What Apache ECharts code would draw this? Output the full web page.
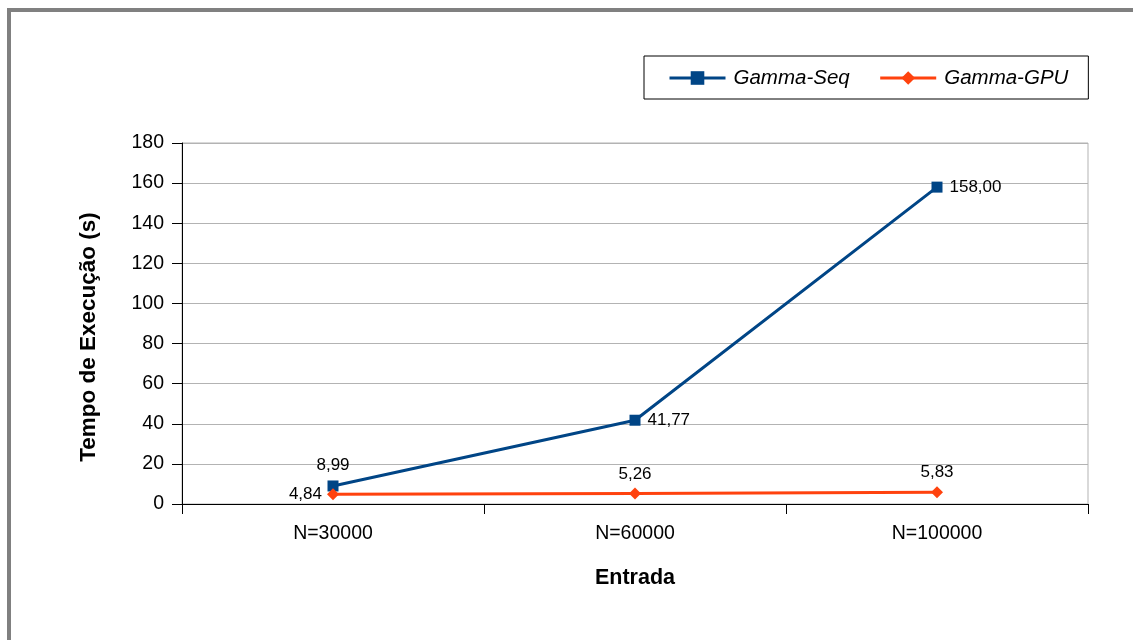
<!DOCTYPE html>
<html>
<head>
<meta charset="utf-8">
<script src="https://cdn.jsdelivr.net/npm/echarts@6/dist/echarts.min.js"></script>
<style>
  html, body { margin: 0; padding: 0; background: #fff; }
  #frame { position: absolute; left: 7px; top: 8px; width: 1126px; height: 632px;
           border-top: 4px solid #808080; border-left: 4px solid #808080; box-sizing: border-box; }
  #chart { position: absolute; left: 0; top: 0; width: 1133px; height: 640px; }
</style>
</head>
<body>
<div id="frame"></div>
<div id="chart"></div>
<script>
const categories = ['N=30000', 'N=60000', 'N=100000'];
const seqValues = [8.99, 41.77, 158.00];
const gpuValues = [4.84, 5.26, 5.83];
const seqLabelPos = ['top', 'right', 'right'];
const gpuLabelPos = ['left', 'top', 'top'];

const fmt = v => v.toFixed(2).replace('.', ',');
const font = 'Liberation Sans, Arial, sans-serif';

const chart = echarts.init(document.getElementById('chart'));
chart.setOption({
  animation: false,
  textStyle: { fontFamily: font },
  grid: { left: 182, right: 45, top: 143, bottom: 136, show: true,
          borderColor: '#b3b3b3', borderWidth: 1, backgroundColor: 'transparent' },
  legend: {
    left: 644, top: 56, padding: [12, 20, 11, 24],
    borderColor: '#000', borderWidth: 1, itemGap: 29,
    itemWidth: 56, itemHeight: 17,
    lineStyle: { width: 3 },
    textStyle: { fontSize: 20.5, fontStyle: 'italic', color: '#000', fontFamily: font,
                 padding: [0, 0, 0, 3] },
    data: ['Gamma-Seq', 'Gamma-GPU']
  },
  // vertical axis title, placed as free text
  graphic: [{
    type: 'text', x: 89, y: 337, rotation: Math.PI / 2,
    style: { text: 'Tempo de Execução (s)', font: 'bold 22.5px ' + font, fill: '#000',
             align: 'center', verticalAlign: 'middle' }
  }],
  xAxis: {
    type: 'category', data: categories, boundaryGap: true,
    name: 'Entrada', nameLocation: 'middle', nameGap: 63,
    nameTextStyle: { fontSize: 21.5, fontWeight: 'bold', color: '#000' },
    axisLine: { lineStyle: { color: '#000', width: 1 } },
    axisTick: { show: true, length: 10, alignWithLabel: false, lineStyle: { color: '#000' } },
    axisLabel: { fontSize: 19.5, color: '#000', margin: 20 },
    splitLine: { show: false }
  },
  yAxis: {
    type: 'value', min: 0, max: 180, interval: 20,
    axisLine: { show: true, lineStyle: { color: '#000', width: 1 } },
    axisTick: { show: true, length: 10, lineStyle: { color: '#000' } },
    axisLabel: { fontSize: 19.5, color: '#000', margin: 18 },
    splitLine: { lineStyle: { color: '#b3b3b3', width: 1 } }
  },
  series: [
    {
      name: 'Gamma-Seq', type: 'line',
      data: seqValues.map((v, i) => ({ value: v, label: { position: seqLabelPos[i] } })),
      symbol: 'rect', symbolSize: 11,
      itemStyle: { color: '#004586' },
      lineStyle: { color: '#004586', width: 3 },
      label: { show: true, fontSize: 17, color: '#000', distance: 7,
               formatter: p => fmt(p.value) }
    },
    {
      name: 'Gamma-GPU', type: 'line',
      data: gpuValues.map((v, i) => ({ value: v, label: { position: gpuLabelPos[i] } })),
      symbol: 'diamond', symbolSize: 12,
      itemStyle: { color: '#ff420e' },
      lineStyle: { color: '#ff420e', width: 3 },
      label: { show: true, fontSize: 17, color: '#000', distance: 5,
               formatter: p => fmt(p.value) }
    }
  ]
});
</script>
</body>
</html>
